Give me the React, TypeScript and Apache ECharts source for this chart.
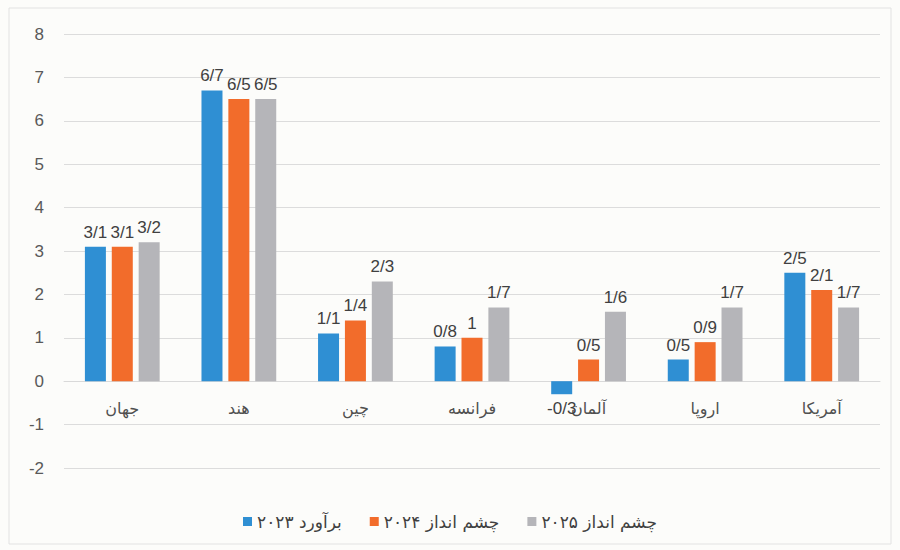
import React, { useEffect, useRef } from "react";
import * as echarts from "echarts";

const categories = ["جهان", "هند", "چین", "فرانسه", "آلمان", "اروپا", "آمریکا"];
const seriesNames = ["برآورد ۲۰۲۳", "چشم انداز ۲۰۲۴", "چشم انداز ۲۰۲۵"];
const est2023 = [3.1, 6.7, 1.1, 0.8, -0.3, 0.5, 2.5];
const out2024 = [3.1, 6.5, 1.4, 1.0, 0.5, 0.9, 2.1];
const out2025 = [3.2, 6.5, 2.3, 1.7, 1.6, 1.7, 1.7];
const colors = ["#2f8fd3", "#f26c2b", "#b5b5b9"];
const yMin = -2;
const yMax = 8;

export default function App() {
  const ref = useRef<HTMLDivElement>(null);
  useEffect(() => {
    if (!ref.current) return;
    const chart = echarts.init(ref.current, null, { renderer: "svg" });
    const font = "Liberation Sans, Arial, DejaVu Sans, sans-serif";
    const fmt = (p: any) => String(p.value).replace(".", "/");
    const gridTop = 34;
    const gridBottom = 82;
    const plotH = 550 - gridTop - gridBottom;
    const zeroOffset = -(plotH * (0 - yMin)) / (yMax - yMin);
    const mk = (name: string, data: number[], color: string) => ({
      name,
      type: "bar",
      barWidth: 21,
      barGap: "28%",
      itemStyle: { color },
      data: data.map((v) => ({
        value: v,
        label: { position: v < 0 ? "bottom" : "top" },
      })),
      label: {
        show: true,
        formatter: fmt,
        fontSize: 17,
        color: "#404040",
        fontFamily: font,
        distance: 6,
      },
    });
    chart.setOption({
      animation: false,
      backgroundColor: "#fcfcfa",
      textStyle: { fontFamily: font },
      graphic: [
        {
          type: "rect",
          shape: { x: 9, y: 8, width: 882, height: 536 },
          style: { fill: "none", stroke: "#e2e2e2", lineWidth: 1 },
          silent: true,
        },
      ],
      grid: { left: 64, right: 20, top: gridTop, bottom: gridBottom, containLabel: false },
      legend: {
        bottom: 15,
        left: "center",
        itemWidth: 9,
        itemHeight: 9,
        itemGap: 28,
        icon: "rect",
        textStyle: { fontSize: 17, color: "#404040", fontFamily: "DejaVu Sans, Noto Sans, sans-serif" },
        data: seriesNames,
      },
      xAxis: {
        type: "category",
        data: categories,
        position: "bottom",
        offset: zeroOffset,
        axisLine: { onZero: false, lineStyle: { color: "#d9d9d9" } },
        axisTick: { show: false },
        axisLabel: {
          fontSize: 16,
          color: "#505050",
          margin: 19,
          fontFamily: "DejaVu Sans, Noto Sans, sans-serif",
        },
      },
      yAxis: {
        type: "value",
        min: yMin,
        max: yMax,
        interval: 1,
        axisLine: { show: false },
        axisTick: { show: false },
        splitLine: { lineStyle: { color: "#dcdcdc" } },
        axisLabel: { fontSize: 17, color: "#595959", margin: 20, fontFamily: font },
      },
      series: [
        mk(seriesNames[0], est2023, colors[0]),
        mk(seriesNames[1], out2024, colors[1]),
        mk(seriesNames[2], out2025, colors[2]),
      ],
    });
    return () => chart.dispose();
  }, []);
  return (
    <div
      ref={ref}
      style={{ position: "fixed", left: 0, top: 0, width: 900, height: 550 }}
    />
  );
}
